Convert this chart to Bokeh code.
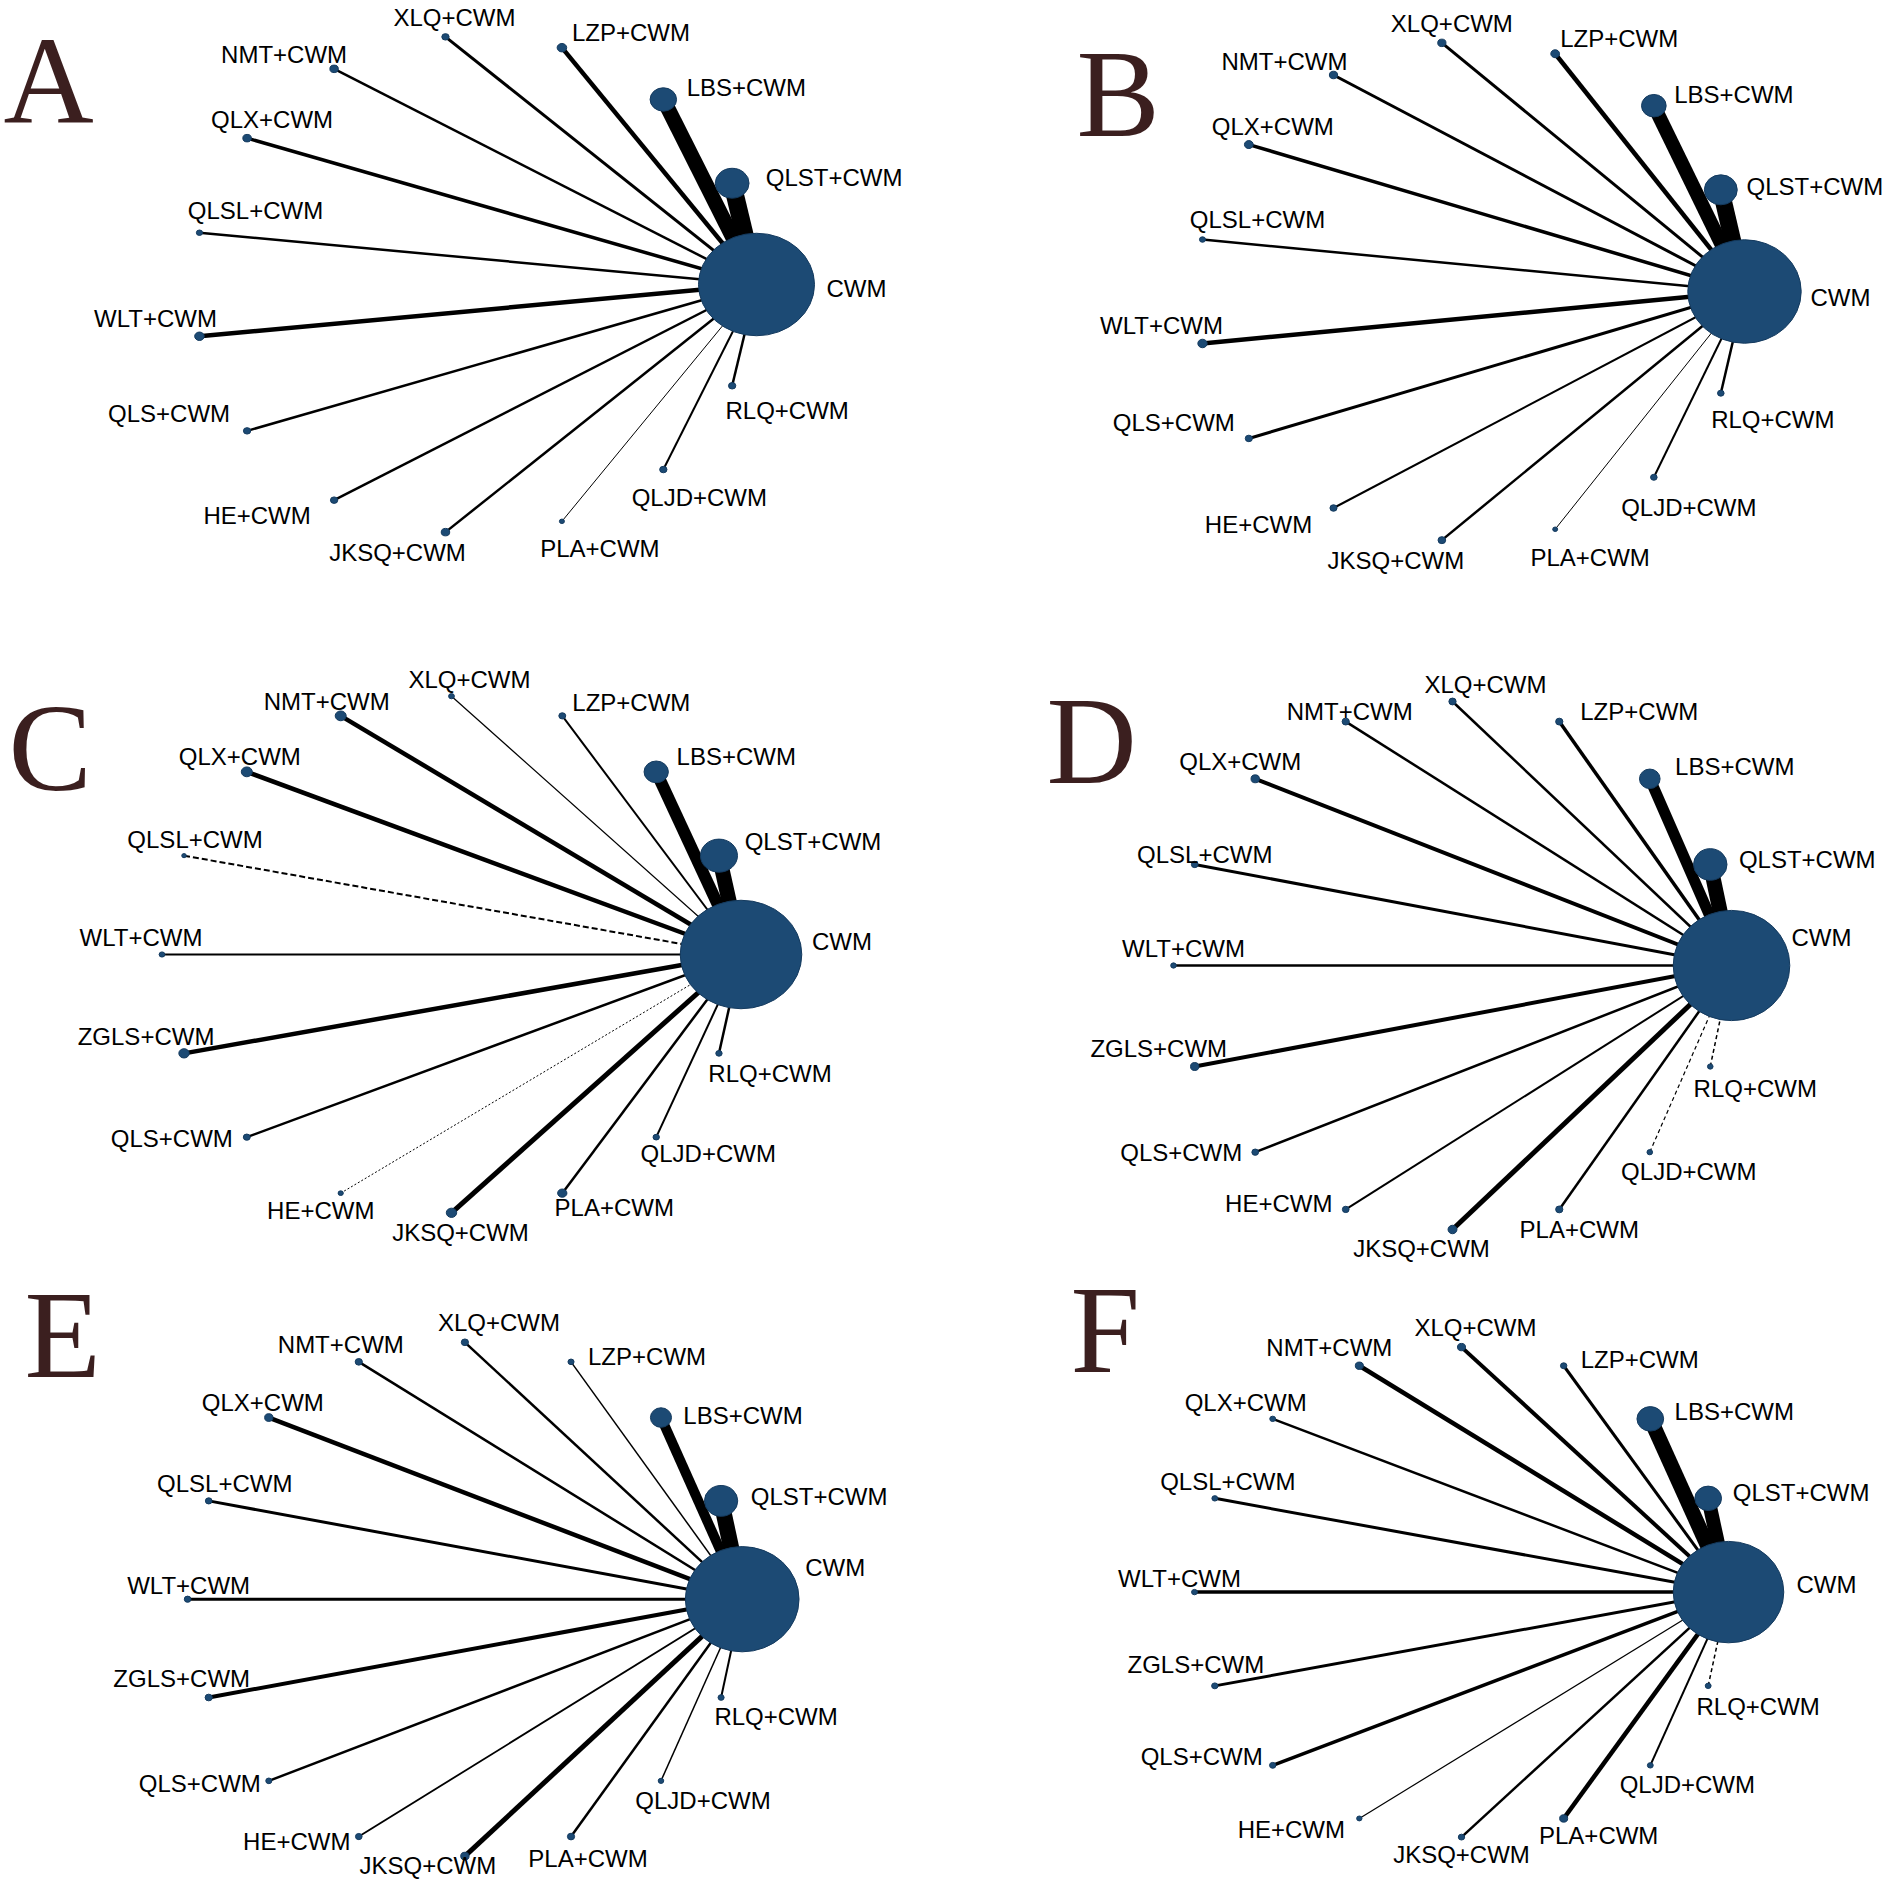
import math
from bokeh.plotting import figure
from bokeh.models import Range1d, ColumnDataSource
from bokeh.layouts import column, row
from bokeh.embed import file_html
from bokeh.resources import INLINE
from bokeh.core.properties import value

# ---------------- data ----------------
names_15 = ["CWM", "QLST+CWM", "LBS+CWM", "LZP+CWM", "XLQ+CWM", "NMT+CWM", "QLX+CWM",
            "QLSL+CWM", "WLT+CWM", "QLS+CWM", "HE+CWM", "JKSQ+CWM", "PLA+CWM",
            "QLJD+CWM", "RLQ+CWM"]
names_16 = ["CWM", "QLST+CWM", "LBS+CWM", "LZP+CWM", "XLQ+CWM", "NMT+CWM", "QLX+CWM",
            "QLSL+CWM", "WLT+CWM", "ZGLS+CWM", "QLS+CWM", "HE+CWM", "JKSQ+CWM",
            "PLA+CWM", "QLJD+CWM", "RLQ+CWM"]

# node size (radius relative to the network circle radius), same order as names
node_size_A = [0.206, 0.060, 0.047, 0.017, 0.013, 0.015, 0.015, 0.011, 0.017, 0.013, 0.013, 0.015, 0.009, 0.013, 0.013]
node_size_B = [0.207, 0.060, 0.045, 0.016, 0.015, 0.015, 0.016, 0.011, 0.017, 0.013, 0.013, 0.014, 0.009, 0.012, 0.012]
node_size_C = [0.210, 0.064, 0.042, 0.012, 0.010, 0.019, 0.019, 0.008, 0.010, 0.018, 0.012, 0.009, 0.018, 0.016, 0.011, 0.011]
node_size_D = [0.209, 0.060, 0.037, 0.013, 0.013, 0.013, 0.015, 0.012, 0.010, 0.015, 0.012, 0.012, 0.016, 0.013, 0.010, 0.010]
node_size_E = [0.205, 0.060, 0.038, 0.011, 0.013, 0.013, 0.015, 0.012, 0.012, 0.013, 0.011, 0.012, 0.015, 0.013, 0.010, 0.011]
node_size_F = [0.207, 0.050, 0.050, 0.012, 0.015, 0.015, 0.011, 0.011, 0.011, 0.012, 0.012, 0.010, 0.012, 0.015, 0.011, 0.011]

# edge thickness for each comparison with CWM (order of names[1:])
edge_width_A = [18, 15, 4.5, 3, 2.5, 3.5, 2.5, 4.5, 2.5, 2.5, 2.5, 1, 2, 2.5]
edge_width_B = [17, 14, 4.5, 3, 3, 3.5, 2.5, 4.5, 3, 2, 2.5, 1, 2, 2.5]
edge_width_C = [15, 12, 2, 1.2, 4.5, 4.5, 2, 1.8, 4.5, 2.5, 1, 5, 2.5, 2, 2.5]
edge_width_D = [15, 11, 3.5, 2.5, 2.5, 4, 3, 2.5, 4, 2.5, 2, 5, 2.5, 1.2, 1.5]
edge_width_E = [16, 10, 1.5, 2.5, 2.5, 4.5, 3, 3, 4, 2.5, 1.8, 5, 2.5, 1.5, 2]
edge_width_F = [14, 15, 3, 4, 4.5, 2.5, 3, 3.5, 3, 3.5, 1.2, 2.5, 4.5, 2, 1.5]

panel_letters = ["A", "B", "C", "D", "E", "F"]

# ---------------- styling / layout ----------------
NODE_COLOR = "#1c4a74"
LETTER_COLOR = "#3b1f1f"

dash_styles = {
    "C": {"QLSL+CWM": "6 3", "HE+CWM": "2 2"},
    "D": {"QLJD+CWM": "4 3", "RLQ+CWM": "4 3"},
    "F": {"RLQ+CWM": "4 3"},
}

# label offsets (px) of each label centre from its node
label_off = {
    "A": [(100, 4), (102, -6), (83, -12), (69, -15), (9, -19), (-50, -14), (25, -19), (56, -22),
          (-44, -18), (-78, -17), (-77, 15), (-48, 20), (38, 27), (36, 28), (55, 25)],
    "B": [(96, 6), (94, -3), (80, -11), (64, -15), (10, -19), (-49, -13), (24, -18), (55, -20),
          (-41, -18), (-75, -16), (-75, 16), (-46, 20), (35, 28), (35, 30), (52, 26)],
    "C": [(101, -13), (94, -14), (80, -15), (69, -13), (18, -17), (-14, -14), (-7, -15), (11, -16),
          (-21, -17), (-38, -17), (-75, 1), (-20, 17), (9, 20), (52, 14), (52, 16), (51, 20)],
    "D": [(90, -28), (97, -5), (85, -12), (80, -10), (33, -17), (4, -10), (-15, -17), (10, -10),
          (10, -17), (-36, -18), (-74, 0), (-67, -6), (-31, 19), (20, 20), (39, 19), (45, 22)],
    "E": [(93, -32), (98, -4), (82, -2), (76, -5), (34, -20), (-18, -17), (-6, -15), (16, -17),
          (1, -14), (-27, -19), (-69, 3), (-62, 5), (-37, 9), (17, 22), (42, 20), (55, 19)],
    "F": [(98, -8), (93, -6), (84, -7), (76, -6), (14, -20), (-30, -18), (-27, -16), (13, -17),
          (-15, -14), (-19, -21), (-71, -9), (-68, 11), (0, 17), (35, 17), (37, 19), (50, 21)],
}

# page placement: (X0, Y0, W, H), network ellipse (cx, cy, rx, ry) in page px,
# panel letter (left edge, vertical centre)
panels = {
    "A": dict(box=(8, 8, 943, 612), net=(482.4, 292, 281.6, 249), letter=(11, 88.5),
              names=names_15, size=node_size_A, width=edge_width_A),
    "B": dict(box=(951, 8, 943, 612), net=(1478, 299, 274, 250), letter=(1084, 101.5),
              names=names_15, size=node_size_B, width=edge_width_B),
    "C": dict(box=(8, 620, 943, 650), net=(459, 962, 289.5, 258.3), letter=(16, 755),
              names=names_16, size=node_size_C, width=edge_width_C),
    "D": dict(box=(951, 620, 943, 650), net=(1460, 973, 279, 264), letter=(1054, 748.5),
              names=names_16, size=node_size_D, width=edge_width_D),
    "E": dict(box=(8, 1270, 943, 617), net=(472.4, 1606.7, 277.3, 256.9), letter=(32, 1342),
              names=names_16, size=node_size_E, width=edge_width_E),
    "F": dict(box=(951, 1270, 943, 617), net=(1469, 1599.6, 267, 245), letter=(1078, 1337),
              names=names_16, size=node_size_F, width=edge_width_F),
}


def make_panel(key):
    cfg = panels[key]
    X0, Y0, W, H = cfg["box"]
    cx, cy, rx, ry = cfg["net"]
    names = cfg["names"]
    n = len(names)
    p = figure(width=W, height=H,
               x_range=Range1d((X0 - cx) / rx, (X0 + W - cx) / rx),
               y_range=Range1d((cy - (Y0 + H)) / ry, (cy - Y0) / ry),
               x_axis_type=None, y_axis_type=None,
               output_backend="svg", toolbar_location=None,
               min_border=0, outline_line_color=None,
               background_fill_color="white", border_fill_color="white")
    p.grid.visible = False

    ang = [2 * math.pi * k / n for k in range(n)]
    xs = [math.cos(a) for a in ang]
    ys = [math.sin(a) for a in ang]

    # edges to CWM (node 0)
    dashes = dash_styles.get(key, {})
    groups = {}
    for i in range(1, n):
        d = dashes.get(names[i], "solid")
        groups.setdefault(d, []).append(i)
    for d, idx in groups.items():
        src = ColumnDataSource(dict(
            x0=[xs[i] for i in idx], y0=[ys[i] for i in idx],
            x1=[xs[0]] * len(idx), y1=[ys[0]] * len(idx),
            w=[cfg["width"][i - 1] for i in idx]))
        p.segment("x0", "y0", "x1", "y1", source=src, line_width="w",
                  line_color="black", line_dash=d, line_cap="butt")

    # nodes
    sizes = cfg["size"]
    nsrc = ColumnDataSource(dict(x=xs, y=ys, d=[2 * s for s in sizes]))
    p.ellipse("x", "y", width="d", height="d", source=nsrc,
              fill_color=NODE_COLOR, line_color="#143a5e", line_width=1)

    # labels
    offs = label_off[key]
    lsrc = ColumnDataSource(dict(x=xs, y=ys, t=names,
                                 dx=[o[0] for o in offs], dy=[o[1] for o in offs]))
    p.text("x", "y", text="t", source=lsrc, x_offset="dx", y_offset="dy",
           text_font=value("Liberation Sans"), text_font_size="24px",
           text_color="black", text_align="center", text_baseline="middle")

    # panel letter
    lx, ly = cfg["letter"]
    p.text(x=[(lx - cx) / rx], y=[(cy - ly) / ry], text=[key],
           text_font=value("Liberation Serif"), text_font_size="125px",
           text_color=LETTER_COLOR, text_align="left", text_baseline="middle")
    return p


figs = {k: make_panel(k) for k in panel_letters}
layout = column(row(figs["A"], figs["B"]),
                row(figs["C"], figs["D"]),
                row(figs["E"], figs["F"]))

open("out.html", "w").write(file_html(layout, INLINE))
